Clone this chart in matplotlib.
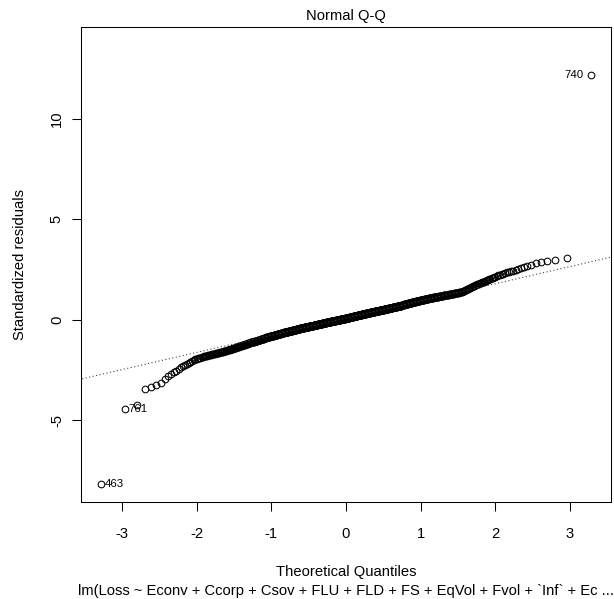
import numpy as np
import matplotlib.pyplot as plt
from statistics import NormalDist

plt.rcParams['font.family'] = ['Liberation Sans', 'DejaVu Sans']
plt.rcParams['axes.unicode_minus'] = False

title = "Normal Q-Q"
x_label = "Theoretical Quantiles"
y_label = "Standardized residuals"
caption = "lm(Loss ~ Econv + Ccorp + Csov + FLU + FLD + FS + EqVol + Fvol + `Inf` + Ec ..."

x_ticks = [-3, -2, -1, 0, 1, 2, 3]
y_ticks = [-5, 0, 5, 10]

# sorted standardized residuals, in hundredths
resid_x100 = [
    -818, -445, -425, -346, -336, -326, -316, -296, -280, -270,
    -261, -252, -243, -237, -231, -225, -219, -213, -208, -204,
    -200, -197, -194, -192, -190, -188, -186, -184, -182, -180,
    -179, -178, -176, -175, -174, -173, -172, -171, -170, -168, -167,
    -166, -165, -164, -163, -162, -161, -160, -159, -158, -157,
    -156, -155, -154, -153, -152, -151, -150, -149, -148, -147,
    -146, -145, -144, -143, -142, -141, -140, -139, -138, -137,
    -136, -135, -135, -134, -133, -132, -131, -130, -130, -129,
    -128, -127, -126, -125, -125, -124, -123, -122, -121, -120,
    -120, -119, -118, -117, -116, -115, -115, -114, -113,
    -112, -112, -111, -111, -110, -110, -109, -108, -108, -107,
    -107, -106, -105, -105, -104, -104, -103, -103, -102, -101,
    -101, -100, -100, -99, -99, -98, -97, -97, -96, -96,
    -95, -95, -94, -93, -93, -92, -92, -91, -90, -90,
    -89, -89, -88, -88, -87,
    -87, -86, -86, -85, -85, -85, -84, -84, -83, -83,
    -83, -82, -82, -81, -81, -81, -80, -80, -79, -79,
    -79, -78, -78, -77, -77, -77, -76, -76, -75, -75,
    -75, -74, -74, -73, -73, -73, -72, -72, -71, -71,
    -71, -70, -70, -69, -69, -69, -68, -68, -67, -67,
    -67, -66, -66, -65, -65,
    -64, -64, -64, -63, -63, -63, -62, -62, -62, -62,
    -61, -61, -61, -60, -60, -60, -59, -59, -59, -58,
    -58, -58, -58, -57, -57, -57, -56, -56, -56, -55,
    -55, -55, -54, -54, -54, -54, -53, -53, -53, -52,
    -52, -52, -51, -51, -51, -50, -50, -50, -50, -49,
    -49, -49, -48, -48, -48, -47, -47, -47, -46, -46,
    -46, -46, -45, -45, -45, -44, -44, -44,
    -43, -43, -43, -43, -42, -42, -42, -42, -41, -41,
    -41, -41, -40, -40, -40, -40, -39, -39, -39, -39,
    -38, -38, -38, -38, -37, -37, -37, -37, -36, -36,
    -36, -36,
    -35, -35, -35, -35, -35, -34, -34, -34, -34, -33,
    -33, -33, -33, -32, -32, -32, -32, -32, -31, -31,
    -31, -31, -30, -30, -30, -30, -29, -29, -29, -29,
    -29, -28, -28, -28, -28, -27, -27, -27, -27, -26,
    -26, -26, -26, -26, -25, -25, -25, -25, -24, -24,
    -24, -24, -23, -23, -23, -23, -23, -22, -22, -22,
    -22, -21, -21, -21, -21, -20, -20, -20, -20, -20,
    -19, -19, -19, -19, -18, -18, -18, -18, -17, -17,
    -17, -17, -17, -16, -16, -16, -16, -15, -15, -15,
    -15, -14, -14, -14, -14, -14, -13, -13, -13, -13,
    -12, -12, -12, -12, -12, -11, -11, -11, -11, -11,
    -10, -10, -10, -10, -10, -9, -9, -9, -9, -9,
    -8, -8, -8, -8, -8, -7, -7, -7, -7, -7,
    -6, -6, -6, -6, -6, -5, -5, -5, -5, -5,
    -4, -4, -4, -4, -4, -3, -3, -3, -3, -3,
    -2, -2, -2, -2, -2, -1, -1, -1, -1, -1,
    0, 0, 0, 0, 0, 1, 1, 1, 1, 1,
    2, 2, 2, 2, 2, 3, 3, 3, 3, 3,
    4, 4, 4, 4, 4, 5, 5, 5, 5, 5,
    6, 6, 6, 6, 6, 7, 7, 7, 7, 7,
    8, 8, 8, 8, 8, 9, 9, 9, 9, 10,
    10, 10, 10, 11, 11, 11, 11, 11, 12, 12,
    12, 12, 13, 13, 13, 13, 14, 14, 14, 14,
    14, 15, 15, 15, 15, 16, 16, 16, 16, 17,
    17, 17, 17, 17, 18, 18, 18, 18, 19, 19,
    19, 19, 20, 20, 20, 20, 20, 21, 21, 21,
    21, 22, 22, 22, 22, 23, 23, 23, 23, 23,
    24, 24, 24, 24, 25, 25, 25, 25, 26, 26,
    26, 26, 26, 27, 27, 27, 27, 28, 28, 28,
    28, 29, 29, 29, 29, 29, 30, 30, 30, 30,
    31, 31, 31, 31, 31, 32, 32, 32, 32, 32,
    33, 33, 33, 33, 34, 34, 34, 34, 34, 35,
    35, 35, 35, 36, 36, 36, 36, 36, 37, 37,
    37, 37, 38, 38, 38, 38, 38, 39, 39, 39,
    39, 40, 40, 40, 40, 40, 41, 41, 41, 41,
    42, 42, 42, 42, 42, 43, 43, 43, 43, 44,
    44, 44, 44, 44, 45, 45, 45, 45, 46, 46,
    46, 46, 46, 47, 47, 47, 47, 48, 48, 48,
    48, 48, 49, 49, 49, 49, 50, 50, 50, 50,
    50, 51, 51, 51, 51, 52, 52, 52, 52, 52,
    53, 53, 53, 53, 54, 54, 54, 54, 55, 55,
    55, 56, 56, 56, 56, 57, 57, 57, 57, 58,
    58, 58, 58, 59, 59, 59, 59, 60, 60, 60,
    61, 61, 61, 61, 62, 62, 62, 62, 63, 63,
    63, 63, 64, 64, 64, 64, 65, 65, 65, 66,
    66, 66, 66, 67, 67, 67, 67, 68, 68, 68,
    68, 69, 69, 69, 69, 70, 70, 70,
    71, 71, 71, 72, 72, 72, 73, 73, 73, 74,
    74, 74, 75, 75, 75, 76, 76, 77, 77, 77,
    78, 78, 78, 79, 79, 79, 80, 80, 80, 81,
    81, 81, 82, 82, 83, 83, 83, 84, 84, 84,
    85, 85, 85, 86, 86, 86, 87, 87, 87, 88,
    88, 89, 89, 89, 90, 90, 90, 91, 91, 91,
    92, 92, 92, 93, 93, 93, 94, 94, 95, 95,
    95, 96, 96, 96,
    97, 97, 97, 98, 98, 99, 99, 99, 100, 100,
    100, 101, 101, 102, 102, 102, 103, 103, 103, 104,
    104, 105, 105, 105, 106, 106, 106, 107, 107, 108,
    108, 108, 109, 109, 109, 110, 110, 111, 111, 111,
    112, 112, 112, 113, 113, 114, 114, 114, 115, 115,
    115, 116, 116, 117, 117, 117, 118, 118,
    119, 119, 120, 120, 121, 121, 121, 122, 122, 123,
    123, 124, 124, 125, 125, 125, 126, 126, 127, 127,
    128, 128, 129, 129, 130, 130, 131, 131, 132, 132,
    133, 134, 134, 135, 135, 136, 136, 137, 137, 138,
    140, 141, 143, 145, 147, 148, 150, 152, 153, 155,
    157, 159, 160, 162,
    164, 166, 168, 170, 172, 174, 176, 178, 180, 182,
    184, 186, 188, 190, 192, 194,
    197, 199, 202, 205, 207, 210, 213, 215, 218, 221,
    223, 226, 229, 232, 235, 237, 240, 243,
    247, 251, 256, 262, 268, 274, 282, 287, 292, 298,
    305, 1215,
]

# observation numbers of the three largest |residuals| and their sorted rank
id_labels = ["463", "761", "740"]
id_ranks = [1, 2, 1000]

resid = np.array(resid_x100) / 100.0
n = len(resid)
nd = NormalDist()
theo = np.array([nd.inv_cdf((i - 0.5) / n) for i in range(1, n + 1)])

fig = plt.figure(figsize=(6.14, 5.99), dpi=100)
ax = fig.add_axes([81 / 614, 1 - 502 / 599, 530 / 614, 475 / 599])

ax.plot(theo, resid, 'o', mfc='none', mec='black', ms=4.8, mew=0.75)

# dotted reference line through the quartiles (like qqline)
q1, q3 = np.percentile(resid, [25, 75])
t1, t3 = nd.inv_cdf(0.25), nd.inv_cdf(0.75)
slope = (q3 - q1) / (t3 - t1)
icpt = q1 - slope * t1
xl = np.array([-5.0, 5.0])
ax.plot(xl, icpt + slope * xl, color='#444444', lw=0.8, ls=(0, (1, 2.2)))

for lab, rank in zip(id_labels, id_ranks):
    k = rank - 1
    if theo[k] < 0:
        ax.annotate(lab, (theo[k], resid[k]), xytext=(2.6, 0), textcoords='offset points',
                    ha='left', va='center', fontsize=8.2)
    else:
        ax.annotate(lab, (theo[k], resid[k]), xytext=(-5.5, 0), textcoords='offset points',
                    ha='right', va='center', fontsize=8.2)

# axis ranges the way R pads them
xr = theo.max() - theo.min()
ax.set_xlim(theo.min() - 0.04 * xr, theo.max() + 0.04 * xr)
ylo, yhi = resid.min(), resid.max()
yhi += 0.075 * (yhi - ylo)
yr = yhi - ylo
ax.set_ylim(ylo - 0.04 * yr, yhi + 0.04 * yr)

ax.set_xticks(x_ticks)
ax.set_xticklabels([str(t) for t in x_ticks])
ax.set_yticks(y_ticks)
ax.set_yticklabels([str(t) for t in y_ticks])
ax.tick_params(direction='out', length=6.5, width=0.75, labelsize=10.6)
ax.tick_params(axis='x', pad=11.3)
ax.tick_params(axis='y', pad=5.8)
for lbl in ax.get_yticklabels():
    lbl.set_rotation(90)
    lbl.set_va('center')
for sp in ax.spines.values():
    sp.set_linewidth(0.75)

ax.set_title(title, fontsize=10.6, pad=4.7)
fig.text(346 / 614, 1 - 576 / 599, x_label, ha='center', va='baseline', fontsize=10.6)
fig.text(346 / 614, 1 - 594.5 / 599, caption, ha='center', va='baseline', fontsize=10.6)
fig.text(24 / 614, 1 - 264.5 / 599, y_label, rotation=90, rotation_mode='anchor',
         ha='center', va='baseline', fontsize=10.6)

fig.savefig("out.png", dpi=100)
